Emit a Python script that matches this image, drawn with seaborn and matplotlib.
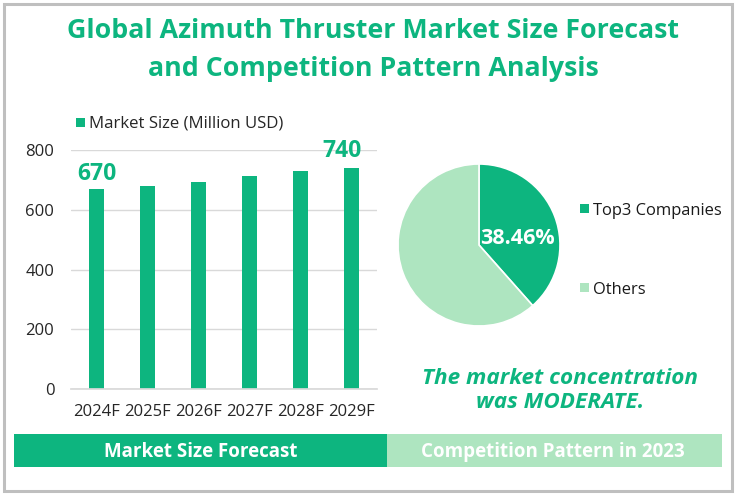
import matplotlib.pyplot as plt
from matplotlib.patches import Rectangle
import pandas as pd
import seaborn as sns

years = ['2024F', '2025F', '2026F', '2027F', '2028F', '2029F']
market_size = [670, 680, 693, 713, 730, 740]
yticks = [0, 200, 400, 600, 800]
pie_labels = ['Top3 Companies', 'Others']
pie_values = [38.46, 61.54]

GREEN = '#0DB57F'
LIGHT = '#AEE5C0'
W, H = 735, 497

sns.set_theme(style='white')
plt.rcParams['font.family'] = ['Open Sans', 'Noto Sans', 'DejaVu Sans']


def fx(x):
    return x / W


def fy(y):
    return 1 - y / H


def box(left, top, right, bottom):
    # pixel box -> figure coords
    return [fx(left), fy(bottom), (right - left) / W, (bottom - top) / H]


fig = plt.figure(figsize=(W / 100, H / 100), dpi=100)

# outer frame
fig.add_artist(Rectangle((fx(4), fy(491)), 728 / W, 487 / H, transform=fig.transFigure,
                         fill=False, ec='#BFBFBF', lw=2.2))

# title
fig.text(fx(373), fy(31), 'Global Azimuth Thruster Market Size Forecast', color=GREEN,
         fontsize=19.3, fontweight='bold', ha='center', va='center')
fig.text(fx(373), fy(69), 'and Competition Pattern Analysis', color=GREEN,
         fontsize=19.3, fontweight='bold', ha='center', va='center')

# bars
ax = fig.add_axes(box(71, 150, 377, 389))
df = pd.DataFrame({'year': years, 'size': market_size})
sns.barplot(data=df, x='year', y='size', color=GREEN, saturation=1, width=0.31, linewidth=0, ax=ax)
ax.set_ylim(0, 800)
ax.set_yticks(yticks)
ax.set_xlabel('')
ax.set_ylabel('')
ax.yaxis.grid(True, color='#D9D9D9', lw=1)
ax.set_axisbelow(True)
sns.despine(ax=ax, left=True, top=True, right=True)
ax.spines['bottom'].set_color('#D9D9D9')
ax.tick_params(axis='both', length=0, labelsize=12, labelcolor='#262626')
ax.tick_params(axis='x', pad=11)
ax.tick_params(axis='y', pad=12)
for i, dx, dy in ((0, 0, 2), (5, -6.5, 3.5)):
    ax.annotate(str(market_size[i]), (i, market_size[i]), xytext=(dx, dy), textcoords='offset points',
                ha='center', va='bottom', color=GREEN, fontsize=16.5, fontweight='bold')

# bar legend
fig.add_artist(Rectangle((fx(76), fy(127)), 9 / W, 9 / H, transform=fig.transFigure, color=GREEN, lw=0))
fig.text(fx(89), fy(124), 'Market Size (Million USD)', color='#262626', fontsize=12.1, va='center')

# pie
ax2 = fig.add_axes(box(398, 164, 560, 326))
wedges, _ = ax2.pie(pie_values, colors=[GREEN, LIGHT], startangle=90, counterclock=False, radius=1,
                    wedgeprops={'edgecolor': 'white', 'linewidth': 1.2})
ax2.set_xlim(-1, 1)
ax2.set_ylim(-1, 1)
fig.text(fx(517), fy(238), '38.46%', color='white', fontsize=15.5, fontweight='bold',
         ha='center', va='center')

# pie legend
for label, col, y in zip(pie_labels, [GREEN, LIGHT], [209, 288]):
    fig.add_artist(Rectangle((fx(580), fy(y + 4)), 9 / W, 9 / H, transform=fig.transFigure, color=col, lw=0))
    fig.text(fx(593), fy(y + 2), label, color='#1A1A1A', fontsize=11.9, va='center')

# note
fig.text(fx(560), fy(378), 'The market concentration', color=GREEN, fontsize=16.2,
         fontweight='bold', fontstyle='italic', ha='center', va='center')
fig.text(fx(560), fy(403), 'was MODERATE.', color=GREEN, fontsize=16.2,
         fontweight='bold', fontstyle='italic', ha='center', va='center')

# bottom bands
fig.add_artist(Rectangle((fx(14), fy(467)), 373 / W, 33 / H, transform=fig.transFigure, color=GREEN, lw=0))
fig.add_artist(Rectangle((fx(387), fy(467)), 335 / W, 33 / H, transform=fig.transFigure, color=LIGHT, lw=0))
fig.text(fx(201), fy(452), 'Market Size Forecast', color='white', fontsize=13.5, fontweight='bold',
         ha='center', va='center')
fig.text(fx(553), fy(452), 'Competition Pattern in 2023', color='white', fontsize=13.5, fontweight='bold',
         ha='center', va='center')

fig.savefig('out.png', dpi=100)
